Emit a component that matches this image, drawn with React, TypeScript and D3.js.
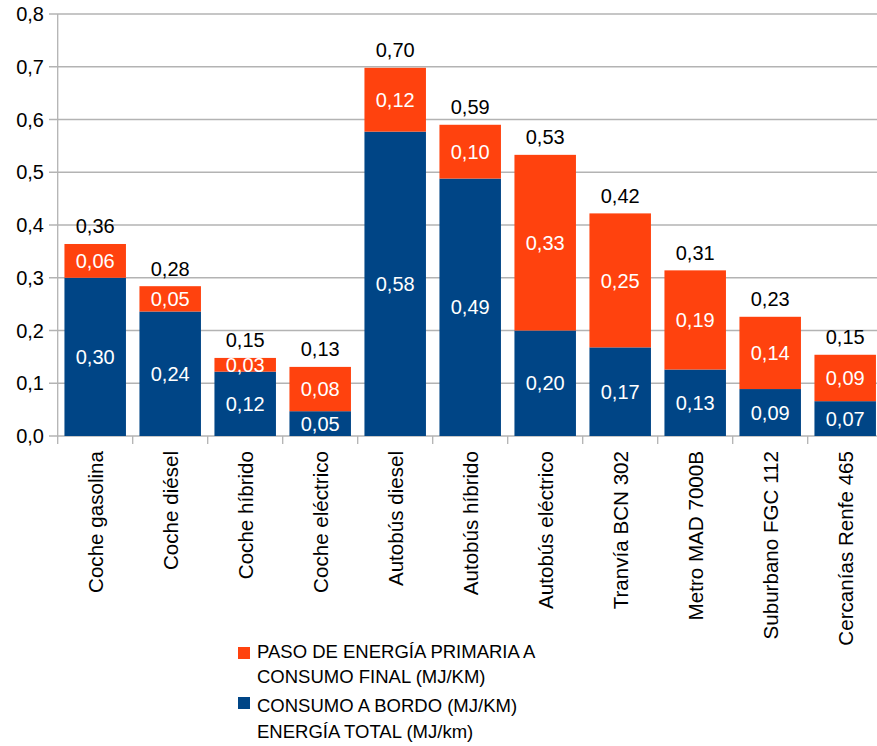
import * as d3 from 'd3'

const categories = [
  'Coche gasolina',
  'Coche diésel',
  'Coche híbrido',
  'Coche eléctrico',
  'Autobús diesel',
  'Autobús híbrido',
  'Autobús eléctrico',
  'Tranvía BCN 302',
  'Metro MAD 7000B',
  'Suburbano FGC 112',
  'Cercanías Renfe 465',
]

// CONSUMO A BORDO (MJ/KM)
const onBoard = [0.3, 0.236, 0.122, 0.047, 0.577, 0.488, 0.2, 0.168, 0.126, 0.089, 0.066]
// PASO DE ENERGÍA PRIMARIA A CONSUMO FINAL (MJ/KM)
const primaryStep = [0.064, 0.048, 0.026, 0.084, 0.121, 0.102, 0.333, 0.254, 0.188, 0.137, 0.088]

const yTicks = [0, 0.1, 0.2, 0.3, 0.4, 0.5, 0.6, 0.7, 0.8]

const legendPrimary = ['PASO DE ENERGÍA PRIMARIA A', 'CONSUMO FINAL (MJ/KM)']
const legendOnBoard = 'CONSUMO A BORDO (MJ/KM)'
const legendTotal = 'ENERGÍA TOTAL (MJ/km)'

const BLUE = '#004586'
const ORANGE = '#ff420e'
const GRID = '#b3b3b3'
const FONT = '"Liberation Sans", Arial, sans-serif'

const fmt = (v: number) => (Math.round(v * 100) / 100).toFixed(2).replace('.', ',')

export default function App() {
  const width = 877
  const height = 746
  const marginLeft = 57.7
  const plotTop = 14
  const plotBottom = 436

  const x = d3
    .scaleBand<string>()
    .domain(categories)
    .range([marginLeft, marginLeft + 75 * categories.length])
    .paddingInner(0.18)
    .paddingOuter(0.09)
  const band = d3.scaleBand<string>().domain(categories).range([marginLeft, marginLeft + 75 * categories.length])
  const y = d3.scaleLinear([0, 0.8], [plotBottom, plotTop])

  return (
    <svg
      width={width}
      height={height}
      viewBox={`0 0 ${width} ${height}`}
      style={{ position: 'absolute', left: 0, top: 0, background: '#fff' }}
      fontFamily={FONT}
    >
      {/* grid */}
      <g stroke={GRID} strokeWidth={1.3}>
        {yTicks.map((t) => (
          <line key={t} x1={49} x2={width} y1={y(t)} y2={y(t)} />
        ))}
        <line x1={marginLeft} x2={marginLeft} y1={plotTop} y2={plotBottom + 8} />
        {categories.map((c) => (
          <line key={c} x1={band(c)! + band.bandwidth()} x2={band(c)! + band.bandwidth()} y1={plotBottom} y2={plotBottom + 8} />
        ))}
      </g>
      {/* y labels */}
      <g fontSize={20} fill="#000" textAnchor="end">
        {yTicks.map((t) => (
          <text key={t} x={44} y={y(t)} dy="0.36em">
            {t.toFixed(1).replace('.', ',')}
          </text>
        ))}
      </g>
      {/* bars */}
      {categories.map((c, i) => {
        const x0 = x(c)!
        const w = x.bandwidth()
        const b = onBoard[i]
        const p = primaryStep[i]
        const total = b + p
        const cx = x0 + w / 2
        return (
          <g key={c}>
            <rect x={x0} width={w} y={y(b)} height={y(0) - y(b)} fill={BLUE} />
            <rect x={x0} width={w} y={y(total)} height={y(b) - y(total)} fill={ORANGE} />
            <g fontSize={20} textAnchor="middle">
              <text x={cx} y={(y(0) + y(b)) / 2} dy="0.36em" fill="#fff">
                {fmt(b)}
              </text>
              <text x={cx} y={(y(b) + y(total)) / 2} dy="0.36em" fill="#fff">
                {fmt(p)}
              </text>
              <text x={cx} y={y(total) - 10.5} fill="#000">
                {fmt(total)}
              </text>
            </g>
          </g>
        )
      })}
      {/* category labels */}
      <g fontSize={20.6} fill="#000" textAnchor="end">
        {categories.map((c) => (
          <text key={c} transform={`translate(${band(c)! + band.bandwidth() / 2 + 7.5},451) rotate(-90)`}>
            {c}
          </text>
        ))}
      </g>
      {/* legend */}
      <g fontSize={18.5} fill="#000">
        <rect x={238} y={647} width={12} height={12} fill={ORANGE} />
        <text x={257} y={658}>
          {legendPrimary[0]}
        </text>
        <text x={257} y={683}>
          {legendPrimary[1]}
        </text>
        <rect x={238} y={697} width={12} height={12} fill={BLUE} />
        <text x={257} y={712}>
          {legendOnBoard}
        </text>
        <text x={257} y={738}>
          {legendTotal}
        </text>
      </g>
    </svg>
  )
}
